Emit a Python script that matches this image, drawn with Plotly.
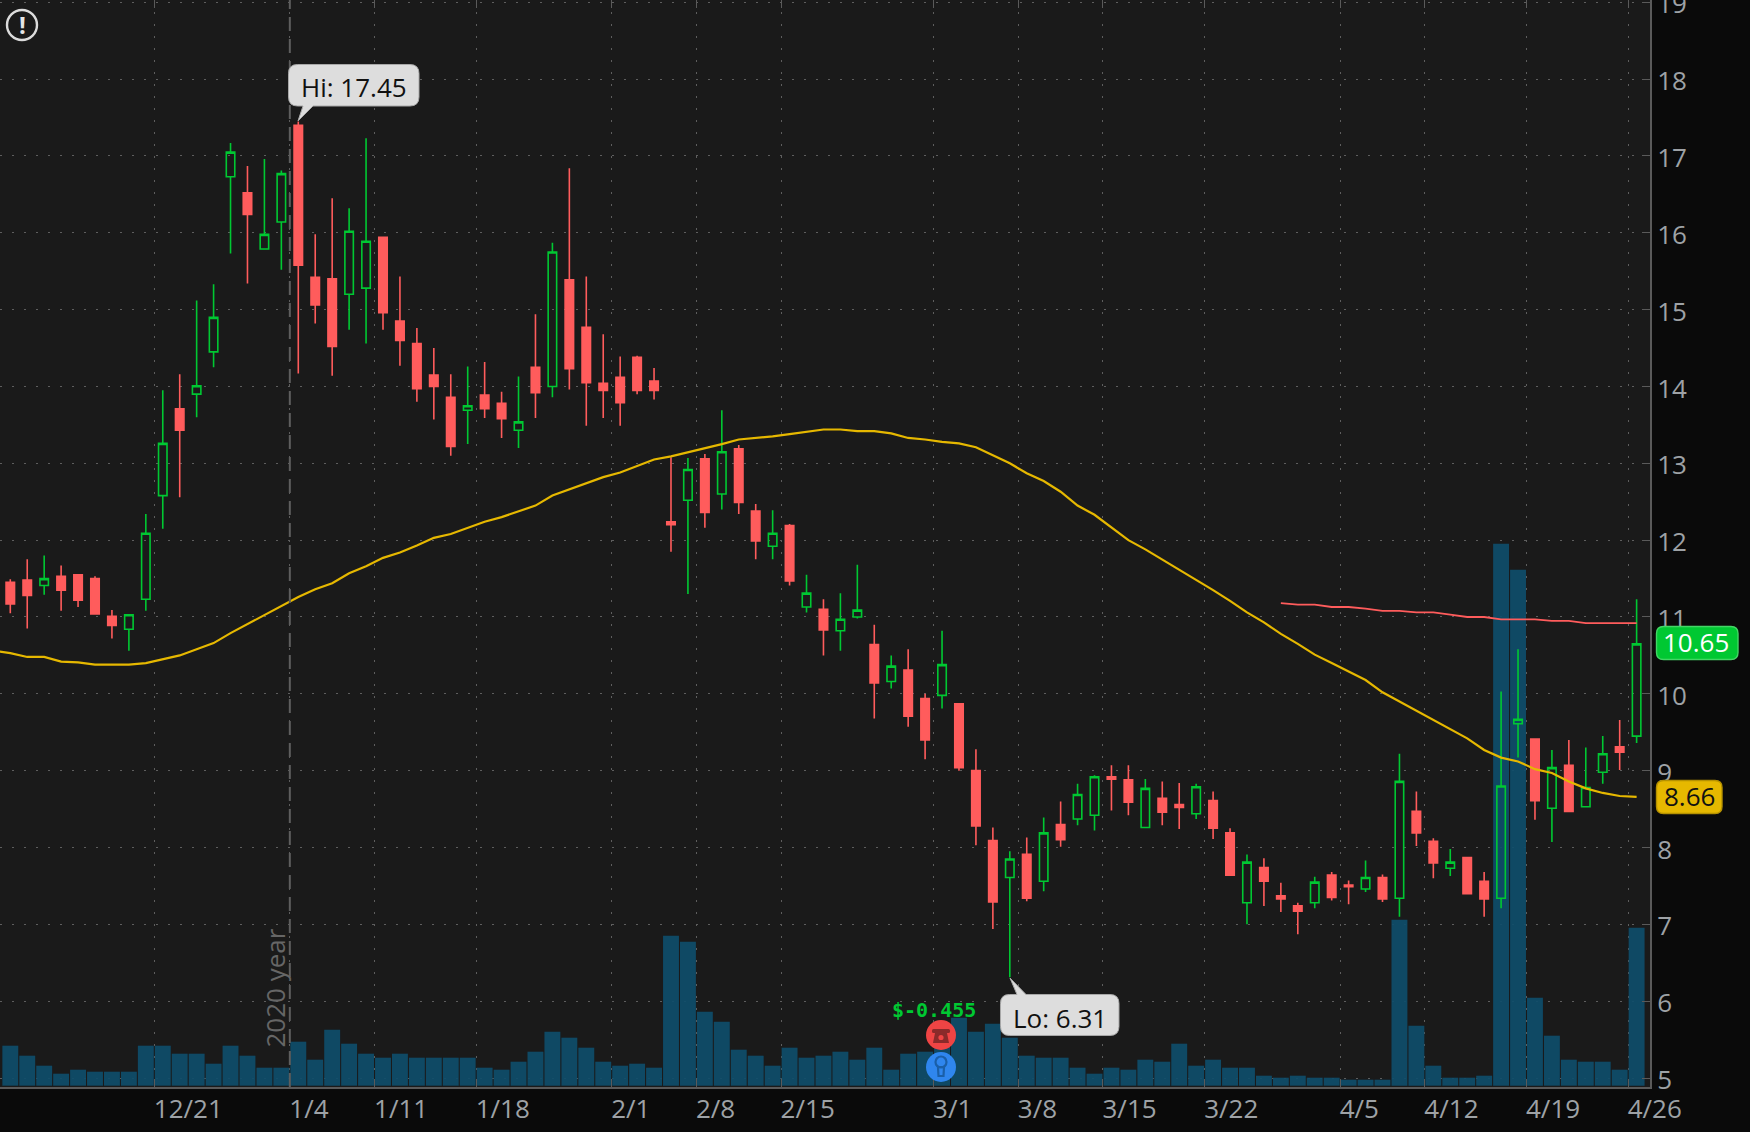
import plotly.graph_objects as go

# Daily bars, in chart order
highs = [11.49,11.75,11.80,11.67,11.55,11.53,11.09,11.03,12.34,13.95,14.16,15.12,15.33,17.17,16.87,16.96,16.81,17.45,15.98,16.45,
         16.32,17.23,15.94,15.43,14.76,14.50,14.16,14.26,14.32,13.93,14.13,14.94,15.87,16.84,15.43,14.68,14.39,14.40,14.24,13.08,
         13.07,13.12,13.69,13.24,12.47,12.39,12.21,11.55,11.23,11.31,11.68,10.90,10.50,10.58,10.00,10.82,9.87,9.28,8.26,7.95,
         8.13,8.39,8.60,8.83,8.94,9.07,9.07,8.89,8.86,8.84,8.83,8.73,8.25,7.91,7.86,7.54,7.28,7.62,7.68,7.57,
         7.83,7.65,9.22,8.73,8.12,7.98,7.87,7.68,10.03,10.58,9.41,9.27,9.40,9.30,9.45,9.66,11.23]
lows = [11.05,10.85,11.29,11.08,11.13,11.04,10.72,10.56,11.08,12.15,12.56,13.60,14.25,15.73,15.34,15.78,15.52,14.17,14.82,14.14,
        14.74,14.56,14.74,14.27,13.80,13.57,13.10,13.25,13.59,13.33,13.20,13.59,13.86,13.96,13.49,13.59,13.49,13.90,13.83,11.85,
        11.30,12.16,12.40,12.34,11.75,11.75,11.41,11.06,10.50,10.56,10.98,9.68,10.07,9.57,9.15,9.81,9.00,8.03,6.94,6.31,
        7.30,7.43,8.01,8.29,8.22,8.48,8.42,8.26,8.29,8.24,8.37,8.11,7.63,7.00,7.24,7.16,6.87,7.21,7.31,7.26,
        7.42,7.29,7.10,8.02,7.60,7.63,7.40,7.10,7.21,9.17,8.36,8.07,8.46,8.52,8.83,9.01,9.36]
opens = [11.45,11.48,11.41,11.53,11.55,11.50,11.01,10.84,11.23,12.58,13.71,13.90,14.45,16.73,16.52,15.79,16.14,17.40,15.42,15.40,
         15.20,15.28,15.94,14.85,14.56,14.15,13.86,13.69,13.89,13.78,13.43,14.25,14.00,15.39,14.77,14.04,14.12,14.38,14.07,12.24,
         12.52,13.06,12.60,13.19,12.38,11.92,12.19,11.13,11.10,10.82,11.00,10.64,10.16,10.31,9.94,9.98,9.87,9.00,8.09,7.61,
         7.91,7.56,8.30,8.37,8.42,8.92,8.88,8.26,8.64,8.56,8.44,8.61,8.19,7.28,7.74,7.37,7.24,7.28,7.64,7.51,
         7.46,7.61,7.34,8.47,8.08,7.73,7.87,7.56,7.34,9.61,9.41,8.51,9.07,8.53,8.98,9.31,9.45]
closes = [11.17,11.28,11.50,11.35,11.22,11.04,10.89,11.03,12.09,13.26,13.43,14.01,14.90,17.05,16.24,15.98,16.77,15.58,15.06,14.52,
          16.02,15.89,14.96,14.60,13.97,14.00,13.22,13.75,13.71,13.58,13.54,13.92,15.75,14.23,14.05,13.95,13.79,13.95,13.95,12.20,
          12.92,12.36,13.15,12.49,11.99,12.09,11.47,11.31,10.83,10.97,11.09,10.14,10.36,9.71,9.40,10.38,9.04,8.28,7.29,7.85,
          7.34,8.19,8.10,8.69,8.92,8.89,8.59,8.77,8.46,8.52,8.79,8.25,7.64,7.81,7.56,7.33,7.17,7.55,7.35,7.49,
          7.61,7.33,8.86,8.19,7.80,7.81,7.40,7.33,8.80,9.67,8.61,9.04,8.47,8.78,9.22,9.24,10.65]

volumes = [20,15,10,6,8,7,7,7,20,20,16,16,11,20,15,9,9,22,13,28,21,16,14,16,14,14,14,14,9,8,12,17,27,24,19,12,10,11,9,75,
           72,37,32,18,15,10,19,14,15,17,13,19,8,16,17,30,34,27,31,24,15,14,14,9,6,9,8,13,12,21,10,13,9,9,5,4,5,4,4,3,
           3,3,83,30,10,4,4,5,271,258,44,25,13,12,12,8,79]

# Moving averages; the slow one begins one bar before the first visible candle
ma_fast = [10.56,10.53,10.48,10.48,10.42,10.41,10.38,10.38,10.38,10.40,10.45,10.50,10.58,10.66,10.79,10.91,11.02,11.15,11.26,11.36,11.44,
           11.57,11.66,11.77,11.84,11.93,12.03,12.08,12.16,12.24,12.30,12.37,12.45,12.58,12.66,12.73,12.82,12.88,12.96,13.05,13.09,
           13.14,13.20,13.25,13.31,13.33,13.35,13.38,13.41,13.44,13.44,13.42,13.42,13.39,13.33,13.31,13.28,13.26,13.21,13.10,13.00,
           12.87,12.77,12.63,12.45,12.33,12.17,12.00,11.88,11.75,11.61,11.48,11.35,11.21,11.06,10.93,10.78,10.65,10.51,10.40,10.29,
           10.18,10.02,9.90,9.77,9.65,9.53,9.42,9.27,9.17,9.12,9.02,8.97,8.86,8.77,8.71,8.67,8.66]
ma_slow = [11.18,11.16,11.16,11.13,11.13,11.11,11.08,11.08,11.06,11.06,11.03,11.00,11.00,10.97,10.97,10.97,10.95,10.95,10.92,10.92,10.92,10.92]
ma_slow_start = 75

tick_positions = [8.5,16.5,21.5,27.5,35.5,40.5,45.5,54.5,59.5,64.5,70.5,78.5,83.5,89.5,95.5]
tick_labels = ["12/21","1/4","1/11","1/18","2/1","2/8","2/15","3/1","3/8","3/15","3/22","4/5","4/12","4/19","4/26"]
price_ticks = list(range(5, 20))

high_label = "Hi: 17.45"
low_label = "Lo: 6.31"
earnings_label = "$-0.455"
year_label = "2020 year"

PLOT_W, PLOT_H = 1650, 1087
BG, PANEL = "#0a0a0a", "#1a1a1a"
GREEN, RED, YELLOW = "#00c832", "#ff5c5c", "#e6b800"
AXIS, GRID, TEXT = "#5a5a5a", "#5e5e5e", "#9ea2a6"
FONT = "Open Sans"


def px(x, y):
    """Screen pixel to paper coordinates, written for an SVG path."""
    return f"{x / PLOT_W:.5f} {1 - y / PLOT_H:.5f}"


def poly(points):
    return "M " + " L ".join(px(x, y) for x, y in points) + " Z"


def rounded(x0, y0, x1, y1, r, tail=None):
    """Rounded box; tail adds a pointer on the top or bottom edge."""
    d = [f"M {px(x0 + r, y0)}"]
    if tail and tail[0] == "top":
        d += [f"L {px(tail[1], y0)}", f"L {px(*tail[3])}", f"L {px(tail[2], y0)}"]
    d += [f"L {px(x1 - r, y0)}", f"Q {px(x1, y0)} {px(x1, y0 + r)}",
          f"L {px(x1, y1 - r)}", f"Q {px(x1, y1)} {px(x1 - r, y1)}"]
    if tail and tail[0] == "bottom":
        d += [f"L {px(tail[2], y1)}", f"L {px(*tail[3])}", f"L {px(tail[1], y1)}"]
    d += [f"L {px(x0 + r, y1)}", f"Q {px(x0, y1)} {px(x0, y1 - r)}",
          f"L {px(x0, y0 + r)}", f"Q {px(x0, y0)} {px(x0 + r, y0)}", "Z"]
    return " ".join(d)


def disc(cx, cy, r, fill, line=None, width=0):
    return dict(type="circle", xref="paper", yref="paper", layer="above",
                x0=(cx - r) / PLOT_W, x1=(cx + r) / PLOT_W,
                y0=1 - (cy + r) / PLOT_H, y1=1 - (cy - r) / PLOT_H,
                fillcolor=fill, line=dict(color=line or fill, width=width))


def path(d, fill, line=None, width=0):
    return dict(type="path", xref="paper", yref="paper", layer="above", path=d,
                fillcolor=fill, line=dict(color=line or fill, width=width))


bar_index = list(range(len(closes)))

fig = go.Figure()
fig.add_trace(go.Bar(x=bar_index, y=volumes, yaxis="y", marker=dict(color="#0f4d6b", line=dict(width=0)),
                     opacity=0.92, showlegend=False))
fig.add_trace(go.Candlestick(
    x=bar_index, open=opens, high=highs, low=lows, close=closes, yaxis="y2", whiskerwidth=0,
    increasing=dict(line=dict(color=GREEN, width=1.6), fillcolor="rgba(0,0,0,0)"),
    decreasing=dict(line=dict(color=RED, width=1.6), fillcolor=RED),
    showlegend=False))
fig.add_trace(go.Scatter(x=list(range(-1, len(ma_fast) - 1)), y=ma_fast, yaxis="y2", mode="lines",
                         line=dict(color=YELLOW, width=2.2), showlegend=False))
fig.add_trace(go.Scatter(x=list(range(ma_slow_start, ma_slow_start + len(ma_slow))), y=ma_slow, yaxis="y2",
                         mode="lines", line=dict(color=RED, width=1.8), showlegend=False))

shapes = [
    # Year separator
    dict(type="line", xref="x", yref="paper", x0=16.5, x1=16.5, y0=0, y1=1, layer="above",
         line=dict(color="#5e5e5e", width=2, dash="14px,8px")),
    # Alert badge, top left
    disc(22, 25, 15, "rgba(0,0,0,0)", "#dcdcdc", 2.4),
    # High and low callouts
    path(rounded(288.5, 64.5, 419, 106, 9, ("bottom", 303, 313, (298, 121))), "#dddddd", "#a8a8a8", 1),
    path(rounded(1000.5, 994.5, 1119, 1035.5, 9, ("top", 1017, 1026, (1010, 978))), "#dddddd", "#a8a8a8", 1),
    # Earnings and idea badges
    disc(941, 1035, 15, "#ef4444"),
    path(rounded(932, 1029, 950, 1033, 1.5), "#8a2a2a"),
    path(poly([(935, 1033), (947, 1033), (949, 1043), (933, 1043)]), "#8a2a2a"),
    disc(941, 1037.5, 2.6, "#ef4444"),
    disc(941, 1067, 15, "#2f86ee"),
    disc(941, 1062, 5.5, "rgba(0,0,0,0)", "#1a5fa8", 2.2),
    path(poly([(938, 1067), (944, 1067), (943.5, 1076), (938.5, 1076)]), "rgba(0,0,0,0)", "#1a5fa8", 2.2),
    # Last value flags on the price axis
    path(rounded(1656.5, 626.5, 1738, 659.5, 7), GREEN, "#43d665", 1.4),
    path(rounded(1656.5, 780.5, 1722, 813.5, 7), YELLOW, "#b59100", 1.4),
]


def note(text, x, y, color, size, font=FONT, angle=0, weight=None):
    return dict(text=text, xref="paper", yref="paper", x=x / PLOT_W, y=1 - y / PLOT_H,
                showarrow=False, xanchor="center", yanchor="middle", textangle=angle,
                font=dict(family=font, size=size, color=color, weight=weight))


annotations = [
    note("!", 22, 25, "#e6e6e6", 24, weight=700),
    note(high_label, 353.5, 87, "#111111", 26),
    note(low_label, 1060, 1018, "#111111", 26),
    note(earnings_label, 934, 1010, GREEN, 20, font="DejaVu Sans Mono, monospace", weight=700),
    note(year_label, 274.5, 988, "#666666", 26, angle=-90),
    note(f"{closes[-1]:.2f}", 1696, 642, "#ffffff", 26),
    note(f"{ma_fast[-1]:.2f}", 1689, 796, "#111111", 26),
]

fig.update_layout(
    width=1750, height=1132, autosize=False,
    margin=dict(l=0, r=1750 - PLOT_W, t=0, b=1132 - PLOT_H, pad=0),
    paper_bgcolor=BG, plot_bgcolor=PANEL,
    font=dict(family=FONT, color=TEXT, size=26),
    hovermode=False, bargap=0.06, boxgap=0.5, boxgroupgap=0,
    xaxis=dict(type="linear", range=[-0.608, 96.79], rangeslider=dict(visible=False), automargin=False,
               tickmode="array", tickvals=tick_positions, ticktext=tick_labels,
               ticklabelposition="outside right", ticklabeloverflow="allow",
               ticks="inside", ticklen=8, tickcolor=AXIS, tickwidth=1,
               tickfont=dict(family=FONT, size=26, color=TEXT), ticklabelshift=-2, ticklabelstandoff=-2,
               showgrid=True, gridcolor=GRID, griddash="2px,10px", gridwidth=1,
               showline=True, linecolor=AXIS, linewidth=2, mirror="ticks", zeroline=False),
    yaxis=dict(range=[-0.65, 542.85], visible=False, showgrid=False, zeroline=False, fixedrange=True, automargin=False),
    yaxis2=dict(overlaying="y", side="right", anchor="x", range=[4.883, 19.03], automargin=False,
                tickmode="array", tickvals=price_ticks, ticktext=[str(p) for p in price_ticks],
                ticklabeloverflow="allow",
                ticks="inside", ticklen=8, tickcolor=AXIS, tickwidth=1,
                tickfont=dict(family=FONT, size=26, color=TEXT), ticklabelstandoff=0, ticklabelshift=2,
                showgrid=True, gridcolor=GRID, griddash="2px,10px", gridwidth=1,
                showline=True, linecolor=AXIS, linewidth=2, zeroline=False),
    shapes=shapes, annotations=annotations,
)

fig.write_html("out.html")
